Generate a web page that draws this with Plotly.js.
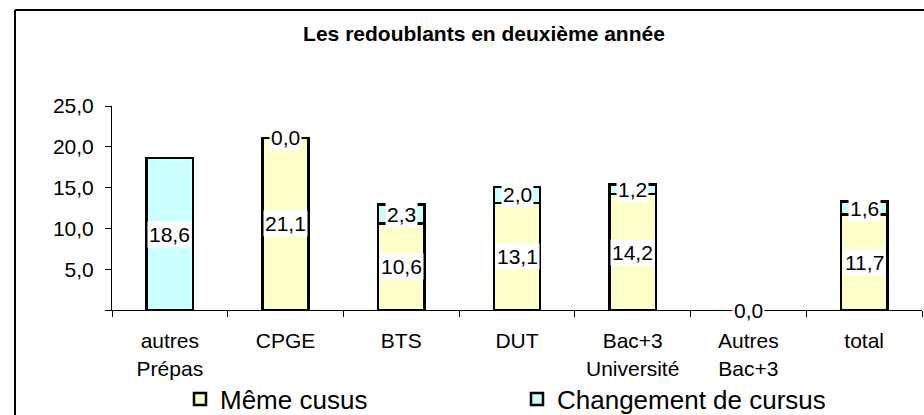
<!DOCTYPE html>
<html>
<head>
<meta charset="utf-8">
<script src="https://cdn.plot.ly/plotly-3.0.1.min.js"></script>
<style>
  html, body { margin: 0; padding: 0; background: #fff; }
  #chart { width: 924px; height: 415px; }
</style>
</head>
<body>
<div id="chart"></div>
<script>
// ---- Data ----
const categories = ['autres<br>Prépas', 'CPGE', 'BTS', 'DUT', 'Bac+3<br>Université', 'Autres<br>Bac+3', 'total'];
const memeCursus = [null, 21.1, 10.6, 13.1, 14.2, null, 11.7];
const changementCursus = [18.6, 0.0, 2.3, 2.0, 1.2, 0.0, 1.6];
const seriesNames = ['Même cusus', 'Changement de cursus'];
const yTickValues = [0, 5, 10, 15, 20, 25];
const yTickLabels = ['', '5,0', '10,0', '15,0', '20,0', '25,0'];
const chartTitle = 'Les redoublants en deuxième année';

// ---- Styles ----
const FONT = 'Liberation Sans, Arial, sans-serif';
const colors = ['#FFFFCC', '#CCFFFF'];

function lineWidths(vals) { return vals.map(v => (v === 0 ? 0 : 2.5)); }
function fmt(v) { return v.toFixed(1).replace('.', ','); }

const traces = [
  {
    type: 'bar', name: seriesNames[0], x: categories, y: memeCursus,
    marker: { color: colors[0], line: { color: '#000', width: lineWidths(memeCursus) } },
    hoverinfo: 'skip'
  },
  {
    type: 'bar', name: seriesNames[1], x: categories, y: changementCursus,
    marker: { color: colors[1], line: { color: '#000', width: lineWidths(changementCursus) } },
    hoverinfo: 'skip'
  }
];

// data labels (white boxes), centred in each stacked segment
const annotations = [];
categories.forEach((c, i) => {
  const m = memeCursus[i];
  const ch = changementCursus[i];
  if (m !== null) {
    annotations.push({ x: c, y: m / 2, xref: 'x', yref: 'y', text: fmt(m), showarrow: false,
      bgcolor: '#fff', borderpad: 1, font: { family: FONT, size: 21, color: '#000' } });
  }
  if (ch !== null) {
    const base = m === null ? 0 : m;
    annotations.push({ x: c, y: base + ch / 2, xref: 'x', yref: 'y', text: fmt(ch), showarrow: false,
      bgcolor: '#fff', borderpad: 1, font: { family: FONT, size: 21, color: '#000' } });
  }
});

const layout = {
  width: 924, height: 415,
  margin: { l: 112, r: 2, t: 106, b: 105, autoexpand: false },
  paper_bgcolor: '#fff', plot_bgcolor: '#fff',
  barmode: 'stack', bargap: 0.6,
  showlegend: true,
  font: { family: FONT, size: 21, color: '#000' },
  title: {
    text: '<b>' + chartTitle + '</b>',
    font: { family: FONT, size: 21, color: '#000' },
    x: 484 / 924, xanchor: 'center', xref: 'container',
    y: 1 - 34 / 415, yanchor: 'middle', yref: 'container'
  },
  xaxis: {
    type: 'category',
    showline: true, linecolor: '#000', linewidth: 1,
    ticks: 'outside', tickson: 'boundaries', ticklen: 6, tickcolor: '#000', tickwidth: 1,
    showgrid: false, zeroline: false,
    tickfont: { family: FONT, size: 21, color: '#000' },
    ticklabelstandoff: 12,
    fixedrange: true
  },
  yaxis: {
    range: [0, 25],
    showline: true, linecolor: '#000', linewidth: 1,
    ticks: 'outside', ticklen: 6, tickcolor: '#000', tickwidth: 1,
    tickmode: 'array', tickvals: yTickValues, ticktext: yTickLabels,
    showgrid: false, zeroline: false,
    tickfont: { family: FONT, size: 21, color: '#000' },
    ticklabelstandoff: 7,
    fixedrange: true
  },
  legend: {
    orientation: 'h', traceorder: 'normal',
    x: (180 - 112) / 810, xanchor: 'left',
    y: -0.322, yanchor: 'top',
    font: { family: FONT, size: 26, color: '#000' },
    entrywidth: 292, entrywidthmode: 'pixels',
    bgcolor: 'rgba(0,0,0,0)', borderwidth: 0
  },
  annotations: annotations,
  shapes: [
    { type: 'line', xref: 'paper', yref: 'paper', x0: (15 - 112) / 810, x1: (15 - 112) / 810,
      y0: (310 - 10) / 204, y1: (310 - 420) / 204, line: { color: '#000', width: 2 } },
    { type: 'line', xref: 'paper', yref: 'paper', x0: (15 - 112) / 810, x1: (930 - 112) / 810,
      y0: (310 - 10) / 204, y1: (310 - 10) / 204, line: { color: '#000', width: 2 } }
  ]
};

Plotly.newPlot('chart', traces, layout, { displayModeBar: false, staticPlot: true });
</script>
</body>
</html>
